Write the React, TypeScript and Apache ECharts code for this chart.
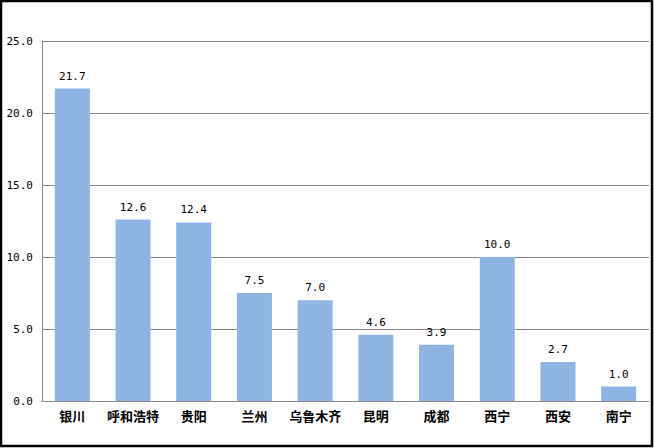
import React, { useEffect, useRef } from "react";
import * as echarts from "echarts";

const categories = ["银川", "呼和浩特", "贵阳", "兰州", "乌鲁木齐", "昆明", "成都", "西宁", "西安", "南宁"];
const values = [21.7, 12.6, 12.4, 7.5, 7.0, 4.6, 3.9, 10.0, 2.7, 1.0];
const yTicks = { min: 0, max: 25, interval: 5 };

export default function App() {
  const ref = useRef<HTMLDivElement>(null);
  useEffect(() => {
    const chart = echarts.init(ref.current!, null, { renderer: "svg" });
    chart.setOption({
      animation: false,
      backgroundColor: "#ffffff",
      grid: { left: 42, right: 5, top: 41, bottom: 47 },
      graphic: [
        {
          type: "rect",
          shape: { x: 1, y: 1, width: 651, height: 445 },
          style: { fill: "none", stroke: "#000", lineWidth: 2.5 },
          silent: true,
        },
      ],
      xAxis: {
        type: "category",
        data: categories,
        axisLine: { lineStyle: { color: "#888888", width: 1 } },
        axisTick: { show: false },
        axisLabel: {
          interval: 0,
          color: "#000",
          fontWeight: "bold",
          fontSize: 13,
          fontFamily: "Noto Sans CJK SC",
          margin: 8,
        },
      },
      yAxis: {
        type: "value",
        min: yTicks.min,
        max: yTicks.max,
        interval: yTicks.interval,
        axisLine: { show: true, lineStyle: { color: "#888888", width: 1 } },
        axisTick: { show: false },
        splitLine: { lineStyle: { color: "#888888", width: 1 } },
        axisLabel: {
          color: "#000",
          fontSize: 11,
          fontFamily: "DejaVu Sans Mono",
          margin: 9,
          formatter: (v: number) => v.toFixed(1),
        },
      },
      series: [
        {
          type: "bar",
          data: values,
          barWidth: 35,
          itemStyle: { color: "#8EB4E3" },
          label: {
            show: true,
            position: "top",
            distance: 7,
            color: "#000",
            fontSize: 11,
            fontFamily: "DejaVu Sans Mono",
            formatter: (p: any) => Number(p.value).toFixed(1),
          },
        },
      ],
    });
    return () => chart.dispose();
  }, []);
  return (
    <div
      ref={ref}
      style={{ position: "absolute", left: 0, top: 0, width: 654, height: 448 }}
    />
  );
}
